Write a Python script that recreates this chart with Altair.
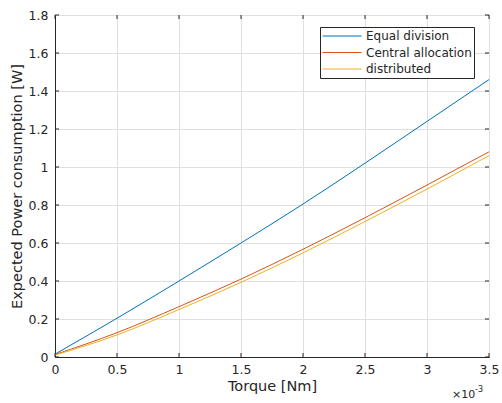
import altair as alt
import pandas as pd

# Torque in Nm, expected power in W
torque = [0, 0.0005, 0.001, 0.0015, 0.002, 0.0025, 0.003, 0.0035]
equal_division = [0.015, 0.204, 0.40, 0.60, 0.805, 1.02, 1.24, 1.46]
central_allocation = [0.013, 0.128, 0.265, 0.41, 0.567, 0.733, 0.905, 1.08]
distributed = [0.01, 0.116, 0.25, 0.393, 0.548, 0.713, 0.884, 1.06]

series_names = ["Equal division", "Central allocation", "distributed"]
series_colors = ["#0072BD", "#D95319", "#EDB120"]

x_ticks = [0, 0.0005, 0.001, 0.0015, 0.002, 0.0025, 0.003, 0.0035]
y_ticks = [0, 0.2, 0.4, 0.6, 0.8, 1.0, 1.2, 1.4, 1.6, 1.8]

W, H = 434, 342
FONT = "DejaVu Sans"
INK = "#262626"

rows = []
for name, vals in zip(series_names, [equal_division, central_allocation, distributed]):
    for t, p in zip(torque, vals):
        rows.append({"torque": t, "power": p, "series": name})
df = pd.DataFrame(rows)

x_scale = alt.Scale(domain=[0, 0.0035], nice=False, zero=False)
y_scale = alt.Scale(domain=[0, 1.8], nice=False, zero=False)

x_axis = alt.Axis(
    values=x_ticks, labelExpr="format(datum.value * 1000, '~g')",
    title="Torque [Nm]", grid=True, tickSize=0, labelPadding=6, titlePadding=4,
    labelOverlap=False, labelFlush=False,
)
y_axis = alt.Axis(
    values=y_ticks, format="~g", title="Expected Power consumption [W]",
    grid=True, tickSize=0, labelPadding=7, titlePadding=4,
    labelOverlap=False, labelFlush=False,
)

lines = alt.Chart(df).mark_line(strokeWidth=1, interpolate="monotone").encode(
    x=alt.X("torque:Q", scale=x_scale, axis=x_axis),
    y=alt.Y("power:Q", scale=y_scale, axis=y_axis),
    color=alt.Color(
        "series:N",
        scale=alt.Scale(domain=series_names, range=series_colors),
        sort=series_names,
        legend=alt.Legend(
            orient="none", legendX=265, legendY=12, title=None,
            symbolType="stroke", symbolSize=1521, symbolStrokeWidth=1,
            strokeColor=INK, fillColor="white", padding=2,
            clipHeight=14, rowPadding=2.5, labelFontSize=12, labelOffset=4,
            labelColor=INK, labelFont=FONT,
        ),
    ),
)

# inward tick marks on all four sides (sharing the same axes as the curves)
xt = pd.DataFrame({"v": x_ticks})
yt = pd.DataFrame({"v": y_ticks})
tick_len = 4
x_bottom = alt.Chart(xt).mark_rule(color=INK, strokeWidth=1).encode(
    x=alt.X("v:Q", scale=x_scale, axis=x_axis), y=alt.value(H), y2=alt.value(H - tick_len))
x_top = alt.Chart(xt).mark_rule(color=INK, strokeWidth=1).encode(
    x=alt.X("v:Q", scale=x_scale, axis=x_axis), y=alt.value(0), y2=alt.value(tick_len))
y_left = alt.Chart(yt).mark_rule(color=INK, strokeWidth=1).encode(
    y=alt.Y("v:Q", scale=y_scale, axis=y_axis), x=alt.value(0), x2=alt.value(tick_len))
y_right = alt.Chart(yt).mark_rule(color=INK, strokeWidth=1).encode(
    y=alt.Y("v:Q", scale=y_scale, axis=y_axis), x=alt.value(W), x2=alt.value(W - tick_len))

# exponent note under the x axis
one = pd.DataFrame({"k": [0]})
exp_base = alt.Chart(one).mark_text(
    text="×10", align="left", baseline="alphabetic", font=FONT, fontSize=11, color=INK
).encode(x=alt.value(397), y=alt.value(383))
exp_power = alt.Chart(one).mark_text(
    text="-3", align="left", baseline="alphabetic", font=FONT, fontSize=8, color=INK
).encode(x=alt.value(420), y=alt.value(377))

chart = alt.layer(
    lines, x_bottom, x_top, y_left, y_right, exp_base, exp_power
).properties(
    width=W, height=H,
    padding={"left": 55, "top": 15, "right": 13, "bottom": 46},
    autosize=alt.AutoSizeParams(type="none"),
).configure_view(
    stroke=INK, strokeWidth=1,
).configure_axis(
    domainColor=INK, domainWidth=1, gridColor="#dfdfdf", gridWidth=1,
    labelFont=FONT, labelFontSize=12.5, labelColor=INK,
    titleFont=FONT, titleFontSize=14.5, titleColor=INK, titleFontWeight="normal",
)

chart.save("out.html", embed_options={"renderer": "svg", "actions": False})
